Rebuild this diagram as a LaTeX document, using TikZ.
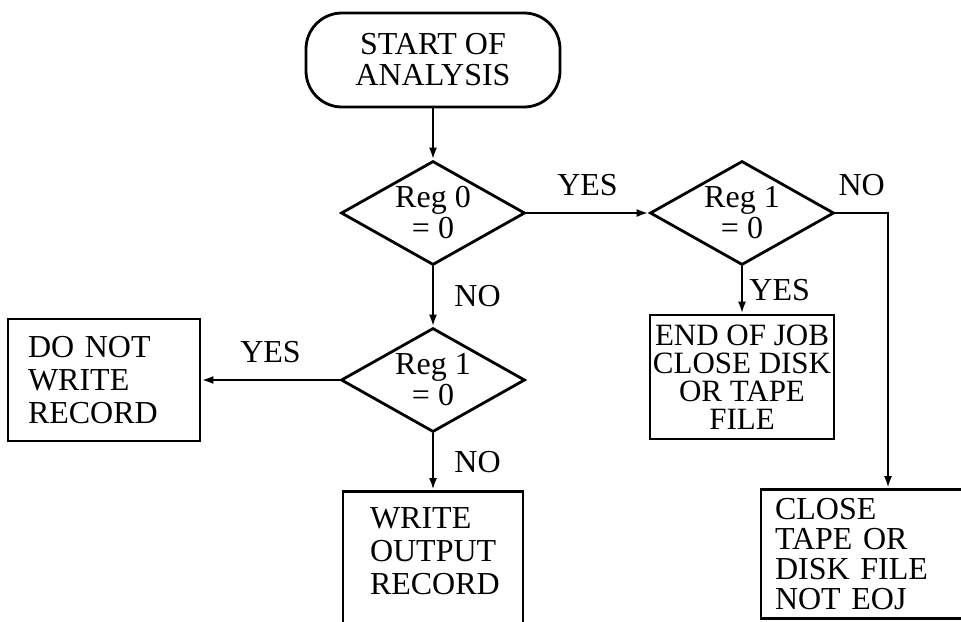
\documentclass[tikz,border=0pt]{standalone}
\usepackage{fontspec}
\setmainfont{Liberation Serif}
\usetikzlibrary{shapes.geometric, arrows.meta, positioning}

\newcommand{\flowfont}{\fontsize{16}{15.5}\selectfont}
\tikzset{
  flow/.style={line width=1.4pt},
  arr/.style={flow, -{Latex[length=6pt, width=4pt]}},
  decision/.style={diamond, draw, line width=1.4pt, aspect=1.8, inner sep=0pt,
    minimum width=92pt, minimum height=52pt, align=center, font=\flowfont},
  jobbox/.style={rectangle, draw, line width=1.4pt, font=\flowfont},
  lbl/.style={font=\flowfont, inner sep=1pt},
}

\begin{document}
\begin{tikzpicture}[x=0.5pt, y=-0.5pt]
  \useasboundingbox (0,0) rectangle (961,621);
  \clip (0,0) rectangle (961,621);
  % terminal and decisions
  \node[jobbox, rounded corners=18pt, minimum width=127pt, minimum height=47pt, align=center] (start) at (433,60) {START OF\\ANALYSIS};
  \node[decision] (reg0) at (433,213) {Reg 0\\= 0};
  \node[decision] (reg1r) at (742,213) {Reg 1\\= 0};
  \node[decision] (reg1l) at (433,380) {Reg 1\\= 0};
  % process boxes
  \node[jobbox, minimum width=96pt, minimum height=61pt, text width=76pt, inner xsep=10pt, align=left,
    font=\fontsize{16}{16.5}\selectfont] (skip) at (104,380) {DO NOT\\WRITE\\RECORD};
  \node[jobbox, minimum width=92pt, minimum height=62pt, inner xsep=0pt, align=center,
    font=\fontsize{15.5}{14}\selectfont] (eoj) at (742,377) {END OF JOB\\CLOSE DISK\\OR TAPE\\FILE};
  \node[jobbox, anchor=north, minimum width=90pt, text width=63pt, inner xsep=13.5pt, inner ysep=8pt, align=left,
    font=\fontsize{16}{16.5}\selectfont] (write) at (433,490) {WRITE\\OUTPUT\\RECORD\\~\\~};
  \node[jobbox, minimum width=95pt, minimum height=64.5pt, text width=88pt, inner xsep=7pt, align=left,
    font=\fontsize{16}{15}\selectfont] (close) at (863,554) {CLOSE\\TAPE OR\\DISK FILE\\NOT EOJ};
  \coordinate (bend) at (888,213);
  % connectors
  \draw[arr] (start.south) -- (reg0.north);
  \draw[arr] (reg0.east) -- node[lbl, midway, above=7pt] {YES} (reg1r.west);
  \draw[arr] (reg1r.east) -- node[lbl, midway, above=7pt] {NO} (bend) -- (bend |- close.north);
  \draw[arr] (reg1r.south) -- node[lbl, midway, right=2pt] {YES} (eoj.north);
  \draw[arr] (reg0.south) -- node[lbl, midway, right=9pt] {NO} (reg1l.north);
  \draw[arr] (reg1l.west) -- node[lbl, midway, above=7pt] {YES} (skip.east);
  \draw[arr] (reg1l.south) -- node[lbl, midway, right=9pt] {NO} (write.north);
\end{tikzpicture}
\end{document}
